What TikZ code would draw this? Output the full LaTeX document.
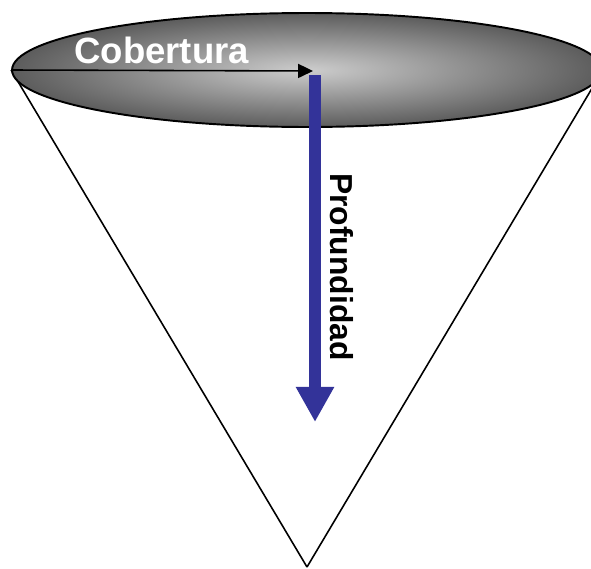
\documentclass[tikz,border=0pt]{standalone}
\usepackage{fontspec}
\setmainfont{Liberation Sans}
\usetikzlibrary{shapes.geometric, arrows.meta, backgrounds}
\definecolor{depthBlue}{RGB}{51, 51, 153}
\definecolor{shadeDark}{RGB}{92, 92, 92}
\definecolor{shadeLight}{RGB}{205, 205, 205}
\tikzset{
  covernode/.style={
    ellipse, draw=black, line width=1.1pt,
    inner color=shadeLight, outer color=shadeDark,
    minimum width=11.8cm, minimum height=2.28cm,
    inner sep=0pt
  },
  conearrow/.style={
    -{Triangle[length=8.5pt,width=8pt]},
    line width=0.9pt, color=black
  },
  depthbar/.style={
    -{Triangle[length=20pt,width=20.5pt]},
    line width=6.8pt, color=depthBlue
  },
  coneline/.style={
    line width=0.9pt, color=black
  },
  wordlabel/.style={
    inner sep=0pt, font=\fontsize{20.8}{24}\selectfont\bfseries
  }
}

\begin{document}
\begin{tikzpicture}[x=0.02cm, y=-0.02cm]
  \useasboundingbox (0,0) rectangle (591,568);

  \node[covernode] (cover) at (307,70) {};

  \coordinate (apex)     at (307,567);
  \coordinate (covertip) at (313,71);
  \coordinate (depthtop) at (315,75);
  \coordinate (depthend) at (315,422);

  \begin{scope}[on background layer]
    \draw[coneline] (cover.west) -- (apex);
    \draw[coneline] (cover.east) -- (apex);
  \end{scope}

  \draw[conearrow] (cover.west) -- (covertip);
  \draw[depthbar]  (depthtop) -- (depthend);

  \node[wordlabel, text=white, anchor=base west] (cobertura) at (74,63) {Cobertura};
  \node[wordlabel, font=\fontsize{18.1}{22}\selectfont\bfseries,
        rotate=-90, anchor=base west] (profundidad) at (330,173) {Profundidad};

\end{tikzpicture}
\end{document}
